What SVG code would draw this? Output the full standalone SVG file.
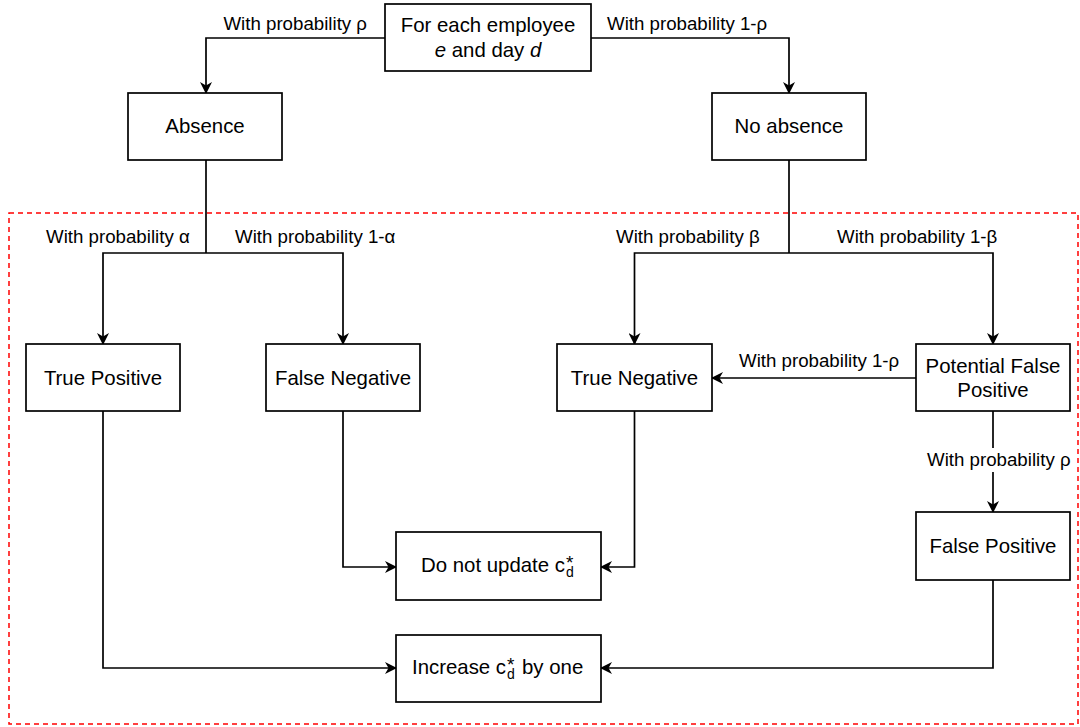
<svg xmlns="http://www.w3.org/2000/svg" width="1080" height="727" viewBox="0 0 1080 727">
<defs>
<marker id="arr" viewBox="0 0 12 12" refX="11" refY="6" markerWidth="12" markerHeight="12" markerUnits="userSpaceOnUse" orient="auto">
<path d="M0,0 L12,6 L0,12 L3.5,6 Z" fill="#000"/>
</marker>
<style>
.box{fill:#fff;stroke:#000;stroke-width:1.7}
.nt{font-family:"Liberation Sans",Arial,sans-serif;font-size:20.4px;fill:#000;text-anchor:middle}
.st{font-family:"Liberation Sans",Arial,sans-serif;font-size:20.4px;fill:#000;text-anchor:start}
.lb{font-family:"Liberation Sans",Arial,sans-serif;font-size:18.7px;fill:#000}
.ast{font-size:19px}
.sub{font-size:14px}
.ed{fill:none;stroke:#000;stroke-width:1.7;marker-end:url(#arr)}
.ln{fill:none;stroke:#000;stroke-width:1.7}
</style>
</defs>
<rect width="1080" height="727" fill="#fff"/>
<rect id="frame" x="9" y="213" width="1069" height="511" fill="none" stroke="#ff0000" stroke-width="1.5" stroke-dasharray="5,4"/>
<g id="connectors">
<path class="ed" d="M385,38 H206 V93"/>
<path class="ed" d="M591,38 H789 V93"/>
<path class="ln" d="M206,160 V253"/>
<path class="ed" d="M206,253 H103 V344"/>
<path class="ed" d="M206,253 H343 V344"/>
<path class="ln" d="M789,160 V253"/>
<path class="ed" d="M789,253 H634.5 V344"/>
<path class="ed" d="M789,253 H993 V344"/>
<path class="ed" d="M916,378 H712"/>
<path class="ed" d="M993,411 V512"/>
<path class="ed" d="M343,411 V567 H396"/>
<path class="ed" d="M634.5,411 V567 H601"/>
<path class="ed" d="M103,411 V668 H396"/>
<path class="ed" d="M993,580 V668 H601"/>
<rect x="926" y="448" width="146" height="24" fill="#fff"/>
<text class="lb" x="367" y="30" text-anchor="end">With probability ρ</text>
<text class="lb" x="607" y="30">With probability 1-ρ</text>
<text class="lb" x="46" y="243">With probability α</text>
<text class="lb" x="235" y="243">With probability 1-α</text>
<text class="lb" x="616" y="243">With probability β</text>
<text class="lb" x="837" y="243">With probability 1-β</text>
<text class="lb" x="739" y="367">With probability 1-ρ</text>
<text class="lb" x="927" y="466">With probability ρ</text>
</g>
<g id="start">
<rect class="box" x="385" y="4" width="206" height="67"/>
<text class="nt" x="488" y="32">For each employee</text>
<text class="nt" x="488" y="57"><tspan font-style="italic">e</tspan> and day <tspan font-style="italic">d</tspan></text>
</g>
<g id="absence">
<rect class="box" x="128" y="93" width="154" height="67"/>
<text class="nt" x="205" y="133">Absence</text>
</g>
<g id="noabsence">
<rect class="box" x="712" y="93" width="154" height="67"/>
<text class="nt" x="789" y="133">No absence</text>
</g>
<g id="tp">
<rect class="box" x="26" y="344" width="154" height="67"/>
<text class="nt" x="103" y="385">True Positive</text>
</g>
<g id="fn">
<rect class="box" x="266" y="344" width="154" height="67"/>
<text class="nt" x="343" y="385">False Negative</text>
</g>
<g id="tn">
<rect class="box" x="557" y="344" width="155" height="67"/>
<text class="nt" x="634.5" y="385">True Negative</text>
</g>
<g id="pfp">
<rect class="box" x="916" y="344" width="154" height="67"/>
<text class="nt" x="993" y="373">Potential False</text>
<text class="nt" x="993" y="397">Positive</text>
</g>
<g id="fp">
<rect class="box" x="916" y="512" width="154" height="68"/>
<text class="nt" x="993" y="553">False Positive</text>
</g>
<g id="noupdate">
<rect class="box" x="396" y="532" width="205" height="68"/>
<text class="st" x="421" y="572">Do not update c<tspan class="ast" x="566" y="569">*</tspan><tspan class="sub" x="566" y="577">d</tspan></text>
</g>
<g id="increase">
<rect class="box" x="396" y="635" width="205" height="67"/>
<text class="st" x="412" y="674">Increase c<tspan class="ast" x="507" y="671">*</tspan><tspan class="sub" x="507" y="679">d</tspan><tspan x="522" y="674">by one</tspan></text>
</g>
</svg>
